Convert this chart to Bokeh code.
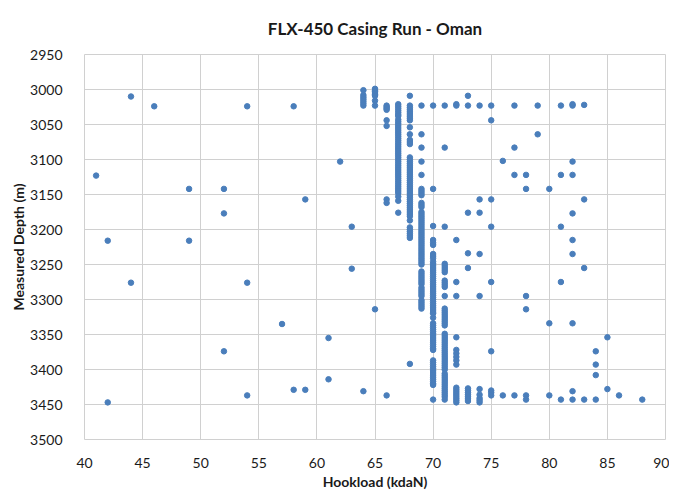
from bokeh.plotting import figure
from bokeh.models import Range1d, FixedTicker, ColumnDataSource
from bokeh.embed import file_html
from bokeh.resources import INLINE

# ---- data: measured depth (m) recorded at each hookload (kdaN) ----
depth_41 = [3123]
depth_42 = [3216, 3447]
depth_44 = [3010, 3276]
depth_46 = [3024]
depth_49 = [3142, 3216]
depth_52 = [3142, 3177, 3374]
depth_54 = [3024, 3276, 3437]
depth_57 = [3335]
depth_58 = [3024, 3429]
depth_59 = [3157, 3429]
depth_61 = [3355, 3414]
depth_62 = [3103]
depth_63 = [3196, 3256]
depth_64 = [3001, 3008, 3011, 3014, 3017, 3020, 3023, 3431]
depth_65 = [2999, 3001, 3003, 3005, 3007, 3009, 3016, 3023, 3314]
depth_66 = [3023, 3025, 3027, 3029, 3044, 3052, 3157, 3162, 3437]
depth_67 = [3021, 3024, 3027, 3030, 3033, 3036, 3038, 3043, 3046, 3049, 3052,
            3055, 3058, 3061, 3064, 3067, 3070, 3073, 3076, 3079, 3082, 3085,
            3088, 3091, 3094, 3097, 3100, 3103, 3106, 3109, 3112, 3115, 3118,
            3121, 3124, 3127, 3130, 3133, 3136, 3139, 3142, 3145, 3148, 3153,
            3159, 3176]
depth_68 = [3009, 3023, 3026, 3029, 3032, 3035, 3038, 3041, 3044, 3054, 3064,
            3072, 3075, 3078, 3097, 3100, 3103, 3106, 3109, 3112, 3115, 3118,
            3121, 3124, 3127, 3130, 3133, 3136, 3139, 3142, 3145, 3148, 3151,
            3154, 3157, 3160, 3163, 3166, 3169, 3172, 3175, 3178, 3181, 3187,
            3197, 3200, 3203, 3206, 3209, 3212, 3392]
depth_69 = [3023, 3064, 3083, 3103, 3122, 3142, 3145, 3148, 3151, 3162, 3165,
            3168, 3175, 3178, 3181, 3184, 3187, 3190, 3193, 3196, 3199, 3202,
            3205, 3208, 3211, 3214, 3217, 3220, 3223, 3226, 3229, 3232, 3235,
            3238, 3241, 3244, 3247, 3250, 3260, 3263, 3266, 3269, 3272, 3275,
            3278, 3283, 3286, 3289, 3292, 3295, 3301, 3304, 3307, 3310, 3313]
depth_70 = [3023, 3142, 3195, 3215, 3219, 3222, 3235, 3238, 3241, 3246, 3249,
            3252, 3255, 3258, 3261, 3264, 3267, 3270, 3273, 3276, 3279, 3282,
            3285, 3288, 3291, 3294, 3297, 3300, 3303, 3306, 3309, 3312, 3315,
            3318, 3320, 3326, 3334, 3337, 3340, 3343, 3346, 3349, 3352, 3355,
            3358, 3361, 3364, 3367, 3370, 3372, 3387, 3390, 3393, 3396, 3399,
            3402, 3405, 3408, 3411, 3414, 3417, 3420, 3422, 3443]
depth_71 = [3023, 3083, 3196, 3249, 3252, 3255, 3258, 3261, 3273, 3276, 3279,
            3282, 3295, 3313, 3316, 3319, 3322, 3325, 3328, 3331, 3334, 3337,
            3349, 3352, 3355, 3358, 3361, 3364, 3367, 3370, 3373, 3376, 3379,
            3382, 3385, 3388, 3391, 3394, 3397, 3400, 3406, 3409, 3412, 3415,
            3418, 3421, 3424, 3427, 3430, 3433, 3436, 3439, 3443]
depth_72 = [3021, 3023, 3215, 3275, 3295, 3354, 3372, 3377, 3382, 3387, 3393,
            3426, 3429, 3432, 3435, 3438, 3441, 3444, 3447]
depth_73 = [3009, 3023, 3176, 3234, 3255, 3427, 3430, 3433, 3436, 3439, 3442, 3445]
depth_74 = [3023, 3157, 3176, 3235, 3295, 3428, 3436, 3441, 3444, 3447]
depth_75 = [3023, 3044, 3157, 3196, 3275, 3374, 3430, 3433, 3437]
depth_76 = [3102, 3437]
depth_77 = [3023, 3083, 3122, 3437]
depth_78 = [3122, 3142, 3295, 3314, 3437, 3443]
depth_79 = [3023, 3064]
depth_80 = [3142, 3334, 3437]
depth_81 = [3023, 3122, 3196, 3275, 3443]
depth_82 = [3021, 3023, 3103, 3122, 3177, 3215, 3235, 3334, 3431, 3443]
depth_83 = [3022, 3157, 3255, 3443]
depth_84 = [3374, 3393, 3408, 3443]
depth_85 = [3354, 3428]
depth_86 = [3437]
depth_88 = [3443]

hookload_columns = [41, 42, 44, 46, 49, 52, 54, 57, 58, 59, 61, 62, 63, 64, 65,
                    66, 67, 68, 69, 70, 71, 72, 73, 74, 75, 76, 77, 78, 79, 80,
                    81, 82, 83, 84, 85, 86, 88]
depth_columns = [depth_41, depth_42, depth_44, depth_46, depth_49, depth_52,
                 depth_54, depth_57, depth_58, depth_59, depth_61, depth_62,
                 depth_63, depth_64, depth_65, depth_66, depth_67, depth_68,
                 depth_69, depth_70, depth_71, depth_72, depth_73, depth_74,
                 depth_75, depth_76, depth_77, depth_78, depth_79, depth_80,
                 depth_81, depth_82, depth_83, depth_84, depth_85, depth_86,
                 depth_88]

x_ticks = [40, 45, 50, 55, 60, 65, 70, 75, 80, 85, 90]
y_ticks = [2950, 3000, 3050, 3100, 3150, 3200, 3250, 3300, 3350, 3400, 3450, 3500]

hookload = []
depth = []
for h, ds in zip(hookload_columns, depth_columns):
    for d in ds:
        hookload.append(h)
        depth.append(d)

source = ColumnDataSource(data=dict(hookload=hookload, depth=depth))

FONT = "Lato"
TEXT = "#1a1a1a"
GRID = "#d0d0d0"

p = figure(frame_width=581, frame_height=385, output_backend="svg",
           toolbar_location=None,
           x_range=Range1d(40, 90), y_range=Range1d(3500, 2950),
           min_border_left=84, min_border_right=4, min_border_top=54,
           min_border_bottom=40)

p.title.text = "FLX-450 Casing Run - Oman"
p.title.align = "center"
p.title.vertical_align = "middle"
p.title.text_font = FONT
p.title.text_font_size = "17px"
p.title.text_font_style = "bold"
p.title.text_color = TEXT
p.title.standoff = 30

p.scatter("hookload", "depth", source=source, size=5.5, marker="circle",
          fill_color="#4a7ebb", line_color="#4a7ebb")

p.xaxis.ticker = FixedTicker(ticks=x_ticks)
p.yaxis.ticker = FixedTicker(ticks=y_ticks)
p.xaxis.axis_label = "Hookload (kdaN)"
p.yaxis.axis_label = "Measured Depth (m)"

for ax in (p.xaxis, p.yaxis):
    ax.axis_line_color = None
    ax.major_tick_line_color = None
    ax.minor_tick_line_color = None
    ax.major_label_text_font = FONT
    ax.major_label_text_font_size = "14px"
    ax.major_label_text_color = TEXT
    ax.axis_label_text_font = FONT
    ax.axis_label_text_font_size = "14px"
    ax.axis_label_text_font_style = "bold"
    ax.axis_label_text_color = TEXT

p.xaxis.major_label_standoff = 12
p.xaxis.axis_label_standoff = 2
p.yaxis.major_label_standoff = 16
p.yaxis.axis_label_standoff = 0

p.xgrid.ticker = FixedTicker(ticks=x_ticks)
p.ygrid.ticker = FixedTicker(ticks=y_ticks)
p.grid.grid_line_color = GRID
p.grid.grid_line_width = 1
p.outline_line_color = GRID

open("out.html", "w").write(file_html(p, INLINE))
